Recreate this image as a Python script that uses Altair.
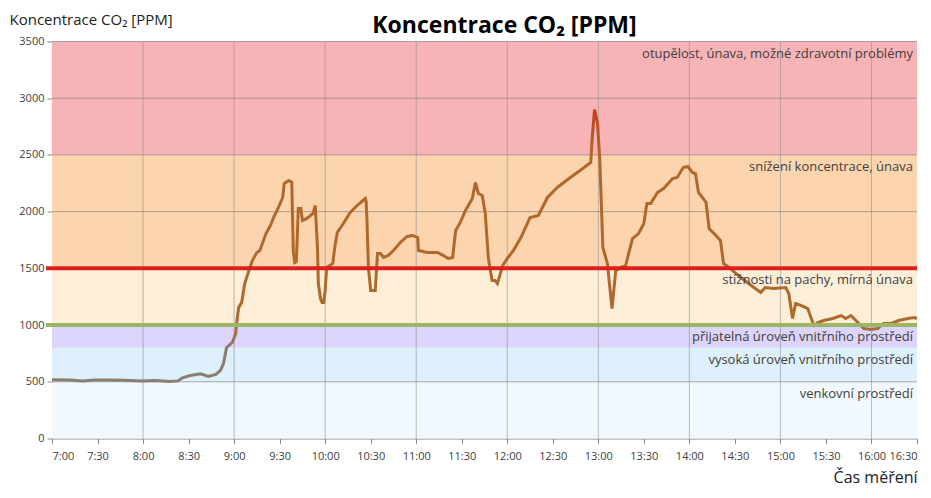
import altair as alt
import pandas as pd

# time in minutes after 7:00, CO2 concentration in ppm
minutes = [0, 12, 20, 28, 38, 48, 59, 68, 78, 83, 86, 91, 98, 103, 108, 111, 113, 115, 119, 121,
           122, 123, 125, 127, 129, 132, 135, 137, 141, 144, 146, 149, 152, 153, 156, 158, 159, 160,
           161, 162.3, 164, 165, 168, 172, 173.5, 175, 175.5, 177, 178, 179, 180, 181, 183, 185,
           186.5, 188, 192, 196.5, 201, 206.5, 207, 207.5, 208.5, 210, 213, 214.5, 216.5, 218.5,
           221.5, 225, 229.5, 234, 237.5, 241, 241.5, 247.5, 254, 258, 261, 264, 266, 269, 272.5,
           277, 279, 281, 283.5, 285.5, 287.5, 290, 292, 293.5, 297, 300, 304, 309, 315, 320.5,
           326.5, 333, 341.5, 348, 355, 356, 357.5, 359.5, 361, 363, 366, 369, 371.5, 375, 378,
           382.5, 386.5, 390, 392, 394.5, 399, 403, 409, 412, 416, 419, 422, 424, 426, 431, 433,
           437.5, 440.5, 442.5, 446, 454, 462.5, 467, 470, 475.5, 483.5, 485.5, 488, 490, 493.5,
           498, 502, 505, 508.5, 514.5, 520, 523, 526.5, 531, 535, 539.5, 544, 548, 553, 558, 564,
           568, 570]
ppm = [518, 515, 508, 515, 515, 513, 508, 512, 503, 508, 535, 555, 570, 548, 565, 600, 660, 800,
       850, 925, 1050, 1155, 1200, 1366, 1450, 1569, 1640, 1657, 1807, 1880, 1948, 2030, 2125, 2248,
       2275, 2260, 1650, 1552, 1560, 2028, 2028, 1922, 1940, 1984, 2054, 1657, 1366, 1230, 1199, 1199,
       1300, 1508, 1525, 1543, 1700, 1816, 1895, 1992, 2054, 2116, 2090, 1948, 1508, 1305, 1305, 1631,
       1631, 1596, 1613, 1657, 1728, 1781, 1790, 1772, 1657, 1640, 1640, 1613, 1587, 1596, 1834, 1904,
       2010, 2116, 2257, 2160, 2142, 1984, 1596, 1393, 1393, 1366, 1525, 1587, 1657, 1772, 1948, 1966,
       2125, 2213, 2301, 2363, 2433, 2654, 2900, 2777, 2451, 1684, 1543, 1146, 1481, 1508, 1525, 1763,
       1807, 1895, 2072, 2072, 2169, 2204, 2292, 2301, 2389, 2398, 2345, 2336, 2169, 2081, 1851, 1790,
       1746, 1543, 1508, 1419, 1331, 1287, 1331, 1322, 1331, 1278, 1058, 1190, 1173, 1146, 996, 1023,
       1040, 1058, 1084, 1058, 1084, 1023, 970, 961, 970, 1014, 1014, 1040, 1058, 1067, 1058]

band_low = [0, 500, 800, 1000, 1500, 2500]
band_high = [500, 800, 1000, 1500, 2500, 3500]
band_color = ["#F2F9FE", "#DDF0FC", "#DCD4FA", "#FDEED8", "#FCD5AF", "#F7B3B6"]
band_label = ["venkovní prostředí", "vysoká úroveň vnitřního prostředí",
              "přijatelná úroveň vnitřního prostředí", "stížnosti na pachy, mírná únava",
              "snížení koncentrace, únava", "otupělost, únava, možné zdravotní problémy"]

limit_value = [1000, 1500]
limit_color = ["#9BB765", "#D9201E"]

y_ticks = [0, 500, 1000, 1500, 2000, 2500, 3000, 3500]
x_ticks = list(range(0, 571, 30))
hour_lines = list(range(60, 541, 60))

title_text = ["Koncentrace CO₂ [PPM]"]

W, H = 865, 397
FONT = "Open Sans"
TXT = "#404040"

line_df = pd.DataFrame({"t": minutes, "ppm": ppm})
band_df = pd.DataFrame({"low": band_low, "high": band_high, "color": band_color, "label": band_label})
limit_df = pd.DataFrame({"v": limit_value, "color": limit_color})
hgrid_df = pd.DataFrame({"v": y_ticks[1:]})
vgrid_df = pd.DataFrame({"t": hour_lines})
title_df = pd.DataFrame({"txt": title_text})

yscale = alt.Scale(domain=[0, 3500], nice=False)
xscale = alt.Scale(domain=[0, 570], nice=False, zero=False)

x_axis = alt.Axis(values=x_ticks, grid=False,
                  labelExpr="(floor(datum.value/60)+7) + ':' + (datum.value % 60 == 0 ? '00' : '30')",
                  labelFont=FONT, labelFontSize=11, labelColor=TXT, labelPadding=7,
                  domainColor="#868686", tickColor="#868686", tickSize=5,
                  title="Čas měření", titleFont=FONT, titleFontSize=16,
                  titleFontWeight="normal", titleColor="#222222",
                  titleAnchor="end", titleAlign="right", titleBaseline="alphabetic",
                  titleX=W, titleY=44)
y_axis = alt.Axis(values=y_ticks, grid=False, format="d", labelFont=FONT, labelFontSize=11,
                  labelColor=TXT, labelPadding=3, domainColor="#868686",
                  tickColor="#868686", tickSize=5,
                  title="Koncentrace CO₂ [PPM]", titleFont=FONT, titleFontSize=15,
                  titleFontWeight="normal", titleColor="#222222", titleAngle=0,
                  titleAlign="left", titleBaseline="alphabetic", titleX=-43, titleY=-17)

bands = alt.Chart(band_df).mark_rect().encode(
    y=alt.Y("low:Q", scale=yscale, axis=y_axis),
    y2="high:Q",
    x=alt.value(0), x2=alt.value(W),
    color=alt.Color("color:N", scale=None),
)

hgrid = alt.Chart(hgrid_df).mark_rule(color="#7F7F7F", strokeWidth=1, opacity=0.65).encode(
    y=alt.Y("v:Q", scale=yscale, axis=y_axis),
    x=alt.value(0), x2=alt.value(W),
)
vgrid = alt.Chart(vgrid_df).mark_rule(color="#8F8F8F", strokeWidth=1, opacity=0.6).encode(
    x=alt.X("t:Q", scale=xscale, axis=x_axis),
    y=alt.value(0), y2=alt.value(H),
)

grad = alt.Gradient(
    gradient="linear",
    stops=[
        alt.GradientStop(color="#8A7D72", offset=0),
        alt.GradientStop(color="#8E7B6A", offset=0.12),
        alt.GradientStop(color="#AD6A2C", offset=0.22),
        alt.GradientStop(color="#B3662A", offset=0.85),
        alt.GradientStop(color="#C04A22", offset=0.95),
        alt.GradientStop(color="#C2401F", offset=1),
    ],
    x1=0, y1=1, x2=0, y2=0,
)

line = alt.Chart(line_df).mark_line(color=grad, strokeWidth=3).encode(
    x=alt.X("t:Q", scale=xscale, axis=x_axis),
    y=alt.Y("ppm:Q", scale=yscale, axis=y_axis),
)

limits = alt.Chart(limit_df).mark_rule(strokeWidth=4).encode(
    y=alt.Y("v:Q", scale=yscale, axis=y_axis),
    x=alt.value(-6), x2=alt.value(W),
    color=alt.Color("color:N", scale=None),
)

labels = alt.Chart(band_df).mark_text(align="right", baseline="middle", dy=12, font=FONT,
                                      fontSize=13, color=TXT).encode(
    y=alt.Y("high:Q", scale=yscale, axis=y_axis),
    x=alt.value(W - 4),
    text="label:N",
)

title = alt.Chart(title_df).mark_text(align="center", baseline="alphabetic", font=FONT,
                                      fontSize=23, fontWeight="bold", color="#000000").encode(
    x=alt.value(W / 2 + 20), y=alt.value(-9), text="txt:N",
)

chart = alt.layer(bands, hgrid, vgrid, line, limits, labels, title).properties(
    width=W, height=H,
    autosize=alt.AutoSizeParams(type="none"),
    padding={"left": 44, "top": 33.5, "right": 6, "bottom": 50.5},
).configure_view(stroke=None)

chart.save("out.html", embed_options={"renderer": "svg", "actions": False})
